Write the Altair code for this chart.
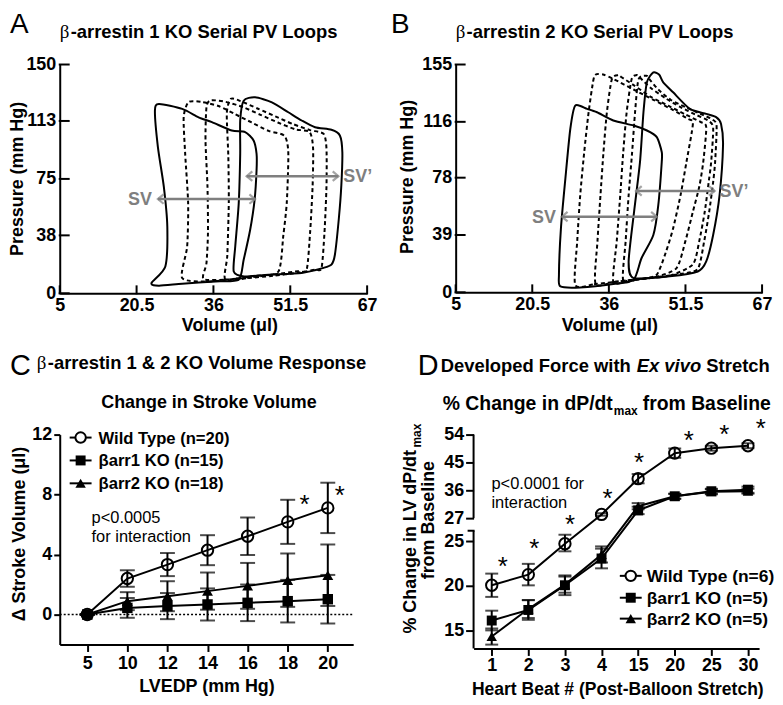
import altair as alt
import pandas as pd

FONT = "Liberation Sans"
SERIF = "Liberation Serif"
GRAY = "#7f7f7f"

# ---------------- Panel A : beta-arrestin 1 KO serial PV loops ----------------
A_XTICKS = [5, 20.5, 36, 51.5, 67]
A_YTICKS = [0, 38, 75, 113, 150]
A_L_V = [23.5, 26.3, 26.7, 26.0, 24.8, 24.2, 25.0, 29.7, 33.0, 35.7, 39.7, 42.4, 44.1, 44.7, 44.7, 44.3, 43.4, 42.1, 41.1, 36.4, 29.7, 25.0]
A_L_P = [6.7, 17.6, 43.7, 69.8, 95.9, 119.8, 124.1, 120.9, 115.4, 112.2, 106.7, 105.7, 100.2, 91.5, 80.7, 61.1, 41.5, 22.0, 8.9, 7.8, 6.3, 5.0]
A_D1_V = [29.7, 35.0, 39.7, 44.5, 49.1, 50.1, 50.8, 51.1, 50.3, 47.1, 43.7, 40.4, 37.0, 33.7, 31.0, 30.0, 30.3, 30.9, 30.7]
A_D1_P = [10.0, 7.8, 9.3, 11.5, 14.3, 38.0, 59.8, 92.4, 103.3, 106.5, 112.0, 117.4, 122.8, 125.4, 125.4, 115.4, 91.5, 58.9, 30.7]
A_D2_V = [34.0, 38.5, 43.5, 48.5, 53.0, 54.8, 55.5, 56.0, 56.1, 55.4, 52.5, 49.0, 45.5, 42.0, 38.5, 35.5, 34.6, 34.4, 34.8, 34.9, 34.6]
A_D2_P = [9.4, 9.0, 10.5, 12.5, 14.5, 15.5, 40.0, 70.0, 95.0, 105.7, 107.5, 112.0, 117.0, 122.0, 125.5, 126.5, 122.0, 100.0, 70.0, 40.0, 20.0]
A_D3_V = [38.4, 43.0, 48.0, 53.0, 56.5, 57.8, 58.4, 58.8, 58.8, 58.2, 55.5, 52.0, 48.5, 45.0, 41.5, 39.5, 38.7, 39.0, 39.1, 38.8]
A_D3_P = [9.0, 10.0, 11.5, 13.5, 15.5, 16.6, 40.0, 70.0, 95.0, 104.6, 107.0, 111.0, 116.0, 121.0, 126.0, 127.5, 118.0, 90.0, 60.0, 25.0]
A_R_V = [42.1, 44.4, 47.8, 51.1, 53.8, 56.5, 59.8, 61.5, 62.0, 61.8, 61.3, 60.5, 59.8, 58.1, 53.8, 47.1, 42.2, 40.1, 40.4, 41.1, 41.4, 41.4]
A_R_P = [126.3, 128.5, 125.2, 118.7, 113.3, 108.9, 107.2, 103.5, 92.6, 70.9, 49.2, 25.3, 18.8, 16.6, 13.3, 12.2, 11.1, 14.3, 30.7, 58.9, 91.5, 113.3]
A_SV_LABELS = ["SV", "SV\u2019"]
A_SV_FROM = [24.8, 42.7]
A_SV_TO = [44.4, 61.2]
A_SV_P = [61.8, 76.8]

# ---------------- Panel B : beta-arrestin 2 KO serial PV loops ----------------
B_XTICKS = [5, 20.5, 36, 51.5, 67]
B_YTICKS = [0, 39, 78, 116, 155]
B_L_V = [29.2, 28.2, 27.2, 26.3, 25.9, 26.2, 30.2, 36.9, 41.0, 42.6, 45.0, 46.0, 46.7, 46.7, 45.7, 43.7, 41.0, 36.9, 33.6, 31.6]
B_L_P = [127.1, 111.3, 77.4, 43.5, 12.0, 4.0, 3.3, 5.6, 8.5, 23.2, 39.0, 59.3, 88.7, 95.5, 105.6, 110.1, 113.5, 116.9, 122.5, 124.8]
B_D1_V = [29.2, 33.0, 38.0, 43.0, 45.7, 47.5, 49.0, 50.5, 51.7, 53.0, 52.0, 49.0, 45.0, 41.0, 37.0, 35.0, 33.6, 32.9, 31.9, 31.0, 30.2, 29.6]
B_D1_P = [5.0, 5.5, 7.5, 9.5, 12.0, 27.0, 43.5, 66.0, 88.7, 114.6, 118.0, 124.0, 131.0, 138.0, 145.0, 148.0, 148.5, 145.0, 122.5, 95.0, 66.0, 35.0]
B_D2_V = [33.3, 37.0, 41.0, 45.5, 49.7, 51.5, 53.0, 54.3, 55.1, 55.7, 54.5, 51.5, 48.0, 44.5, 41.0, 38.5, 37.9, 36.6, 35.6, 34.9, 34.3, 33.7]
B_D2_P = [6.0, 7.0, 8.5, 10.5, 16.5, 35.0, 54.8, 72.0, 88.7, 112.4, 116.0, 121.0, 127.0, 133.0, 141.0, 146.5, 147.8, 145.0, 122.5, 95.0, 66.0, 35.0]
B_D3_V = [36.9, 40.0, 44.0, 48.5, 53.0, 54.3, 55.4, 56.2, 56.7, 57.1, 56.0, 53.5, 50.5, 47.5, 44.5, 42.3, 41.6, 40.6, 39.6, 38.9, 38.3, 37.6]
B_D3_P = [7.0, 8.0, 9.5, 11.5, 19.0, 35.0, 54.8, 75.0, 88.7, 112.0, 117.0, 121.0, 126.0, 132.0, 139.0, 146.0, 147.8, 145.0, 122.5, 95.0, 66.0, 35.0]
B_D4_V = [38.9, 42.0, 46.0, 50.5, 54.0, 55.3, 56.3, 57.1, 57.5, 57.8, 57.0, 54.5, 51.5, 48.5, 46.0, 44.2, 43.6, 42.0, 41.3, 40.7, 40.0, 39.4]
B_D4_P = [8.0, 9.0, 10.5, 12.5, 16.0, 35.0, 54.8, 75.0, 88.7, 113.0, 117.5, 121.5, 126.0, 131.0, 138.0, 145.0, 147.4, 145.0, 122.5, 95.0, 66.0, 35.0]
B_R_V = [45.0, 46.2, 47.0, 49.0, 52.4, 55.7, 57.7, 58.7, 59.1, 58.4, 57.1, 55.7, 54.0, 48.3, 41.0, 40.0, 41.1, 42.3, 43.0, 43.7]
B_R_P = [149.6, 148.0, 142.9, 136.1, 124.8, 121.4, 119.2, 114.6, 100.0, 66.1, 39.0, 21.0, 14.2, 10.9, 9.7, 20.9, 54.8, 88.7, 122.5, 142.9]
B_SV_LABELS = ["SV", "SV\u2019"]
B_SV_FROM = [26.5, 41.5]
B_SV_TO = [45.7, 57.4]
B_SV_P = [51.5, 69.0]

# ---------------- Panel C : change in stroke volume ----------------
C_CATS = ["5", "10", "12", "14", "16", "18", "20"]
C_YTICKS = [0, 4, 8, 12]
C_WT = [0, 2.4, 3.33, 4.29, 5.22, 6.18, 7.11]
C_WT_ERR = [0, 0.55, 0.77, 1.0, 1.25, 1.47, 1.68]
C_B1 = [0, 0.44, 0.56, 0.67, 0.78, 0.89, 1.02]
C_B1_ERR = [0, 0.66, 0.87, 1.07, 1.22, 1.42, 1.62]
C_B2 = [0, 0.89, 1.22, 1.56, 1.91, 2.29, 2.62]
C_B2_ERR = [0, 0.6, 1.0, 1.24, 1.53, 1.78, 2.05]
C_LEGEND = ["Wild Type (n=20)", "\u03b2arr1 KO (n=15)", "\u03b2arr2 KO (n=18)"]
C_STAR_CATS = ["18", "20"]
C_STAR_Y = [7.6, 8.2]
C_STAR_DX = [17, 12]

# ---------------- Panel D : % change in dP/dt max ----------------
D_CATS = ["1", "2", "3", "4", "15", "20", "25", "30"]
D_YTICKS = [15, 20, 25, 27, 36, 45, 54]
D_WT = [20.06, 21.25, 24.7, 28.2, 39.75, 48.0, 49.6, 50.4]
D_WT_ERR = [1.3, 1.2, 0.85, 0.4, 1.5, 1.5, 0.8, 0.8]
D_B1 = [16.12, 17.3, 20.06, 23.05, 29.5, 34.07, 35.7, 36.2]
D_B1_ERR = [1.1, 1.1, 1.1, 1.1, 1.2, 0.8, 0.8, 1.0]
D_B2 = [14.33, 17.4, 20.13, 23.5, 30.86, 34.07, 35.5, 35.7]
D_B2_ERR = [0.9, 1.0, 0.9, 0.9, 1.0, 0.8, 0.8, 0.8]
D_LEGEND = ["Wild Type (n=6)", "\u03b2arr1 KO (n=5)", "\u03b2arr2 KO (n=5)"]
D_STAR_Y = [22.6, 24.7, 26.8, 34.7, 46.3, 53.4, 55.6, 57.5]
D_STAR_DX = [11, 6, 5, 6, 1, 14, 13, 13]


# ---------------- helpers ----------------
def T(text, x, y, size=18, weight="bold", align="left", baseline="alphabetic",
      angle=0, italic=False, color="black", font=FONT):
    kw = dict(align=align, baseline=baseline, fontSize=size, fontWeight=weight,
              font=font, color=color)
    if angle:
        kw["angle"] = angle
    if italic:
        kw["fontStyle"] = "italic"
    return alt.Chart(pd.DataFrame({"t": [text]})).mark_text(**kw).encode(
        text="t:N", x=alt.value(x), y=alt.value(y))


def ax(**kw):
    base = dict(title=None, grid=False, labelFont=FONT, labelFontSize=18,
                labelFontWeight="bold", labelColor="black", domainColor="black",
                domainWidth=2, tickColor="black", tickWidth=2, labelFlush=False,
                labelOverlap=False)
    base.update(kw)
    return alt.Axis(**base)


def loops_frame(names, Vs, Ps):
    rows = []
    for n, V, P in zip(names, Vs, Ps):
        for i, (v, p) in enumerate(zip(V, P)):
            rows.append({"loop": n, "idx": i, "V": v, "P": p})
    return pd.DataFrame(rows)


def pv_panel(solid, dashed, svs, W, H, ymax, xticks, yticks, letter, letter_x,
             title, ytitle_x, ytitle_y, xtitle_x):
    xs = alt.Scale(domain=[5, 67], nice=False, zero=False)
    ys = alt.Scale(domain=[0, ymax], nice=False, zero=False)
    xax = ax(values=xticks, labelExpr="'' + datum.value", ticks=False, tickSize=0, labelPadding=3)
    yax = ax(values=yticks, labelExpr="'' + datum.value", ticks=False, tickSize=0, labelPadding=4)
    X = alt.X("V:Q", scale=xs, axis=xax)
    Y = alt.Y("P:Q", scale=ys, axis=yax)
    dl = alt.Chart(dashed).mark_line(interpolate="cardinal-closed", tension=0.3,
                                     strokeDash=[4, 3], strokeWidth=2, color="black").encode(
        x=X, y=Y, detail="loop:N", order="idx:Q")
    sl = alt.Chart(solid).mark_line(interpolate="cardinal-closed", tension=0.3,
                                    strokeWidth=2, color="black").encode(
        x=X, y=Y, detail="loop:N", order="idx:Q")
    xt = alt.Chart(pd.DataFrame({"V": xticks})).mark_rule(color="black", strokeWidth=2).encode(
        x=X, y=alt.value(H + 1), y2=alt.value(H - 8))
    yt = alt.Chart(pd.DataFrame({"P": yticks})).mark_rule(color="black", strokeWidth=2).encode(
        y=Y, x=alt.value(-1), x2=alt.value(10))
    svr = alt.Chart(svs).mark_rule(color=GRAY, strokeWidth=2.5).encode(
        x=X, x2="V2:Q", y=Y)
    left_head = alt.Chart(svs).mark_point(shape="M1.2,-1L0,0L1.2,1", size=90, filled=False,
                                          color=GRAY, strokeWidth=2.2).encode(x=X, y=Y)
    right_head = alt.Chart(svs).mark_point(shape="M-1.2,-1L0,0L-1.2,1", size=90, filled=False,
                                           color=GRAY, strokeWidth=2.2).encode(
        x=alt.X("V2:Q", scale=xs, axis=xax), y=Y)
    lab1 = alt.Chart(svs.iloc[[0]]).mark_text(align="right", baseline="middle", dx=-6, dy=1,
                                              font=FONT, fontSize=18, fontWeight="bold",
                                              color=GRAY).encode(x=X, y=Y, text="label:N")
    lab2 = alt.Chart(svs.iloc[[1]]).mark_text(align="left", baseline="middle", dx=5, dy=1,
                                              font=FONT, fontSize=18, fontWeight="bold",
                                              color=GRAY).encode(
        x=alt.X("V2:Q", scale=xs, axis=xax), y=Y, text="label:N")
    texts = [
        T(letter, letter_x, -32, size=28, weight="normal"),
        T("\u03b2", 0, -27, size=19, weight="normal", font=SERIF),
        T(title, 11, -27, size=18.5),
        T("Pressure (mm Hg)", ytitle_x, ytitle_y, size=18, angle=270, align="center"),
        T("Volume (\u03bcl)", xtitle_x, 268, size=18, align="center"),
    ]
    return alt.layer(dl, sl, xt, yt, svr, left_head, right_head, lab1, lab2, *texts).properties(
        width=W, height=H)


def group_frame(cats, series):
    rows = []
    for g, (vals, errs) in series.items():
        for c, v, e in zip(cats, vals, errs):
            rows.append({"cat": c, "grp": g, "y": v, "lo": v - e, "hi": v + e})
    return pd.DataFrame(rows)


def stats_layers(df, X, ys, yax, cap, msize):
    Y = alt.Y("y:Q", scale=ys, axis=yax)
    Ylo = alt.Y("lo:Q", scale=ys, axis=yax)
    Yhi = alt.Y("hi:Q", scale=ys, axis=yax)
    bars = alt.Chart(df).mark_rule(color="black", strokeWidth=2).encode(
        x=X, y=Ylo, y2="hi:Q", detail="grp:N")
    cap_lo = alt.Chart(df).mark_tick(color="black", thickness=2, size=cap, orient="horizontal").encode(
        x=X, y=Ylo)
    cap_hi = alt.Chart(df).mark_tick(color="black", thickness=2, size=cap, orient="horizontal").encode(
        x=X, y=Yhi)
    lines = alt.Chart(df).mark_line(color="black", strokeWidth=2).encode(
        x=X, y=Y, detail="grp:N")
    wt = alt.Chart(df[df.grp == "wt"]).mark_point(shape="circle", size=msize[0], filled=False,
                                                   color="black", strokeWidth=2, opacity=1).encode(x=X, y=Y)
    b1 = alt.Chart(df[df.grp == "b1"]).mark_point(shape="square", size=msize[1], filled=True,
                                                   color="black", opacity=1).encode(x=X, y=Y)
    b2 = alt.Chart(df[df.grp == "b2"]).mark_point(shape="triangle-up", size=msize[2], filled=True,
                                                   color="black", opacity=1).encode(x=X, y=Y)
    return [bars, cap_lo, cap_hi, lines, b2, b1, wt]


def legend_layers(labels, ys_px, x0, x1, xm, xt, size, msize):
    out = []
    shapes = ["circle", "square", "triangle-up"]
    for lab, yp, sh, ms in zip(labels, ys_px, shapes, msize):
        d = pd.DataFrame({"t": [lab]})
        out.append(alt.Chart(d).mark_rule(color="black", strokeWidth=2).encode(
            x=alt.value(x0), x2=alt.value(x1), y=alt.value(yp)))
        out.append(alt.Chart(d).mark_point(shape=sh, size=ms, filled=(sh != "circle"),
                                           fill="white" if sh == "circle" else "black",
                                           color="black", strokeWidth=2, opacity=1).encode(
            x=alt.value(xm), y=alt.value(yp)))
        out.append(alt.Chart(d).mark_text(align="left", baseline="middle", font=FONT, fontSize=size,
                                          fontWeight="bold", color="black").encode(
            text="t:N", x=alt.value(xt), y=alt.value(yp + 1)))
    return out


# ---------------- build panel A & B ----------------
A_solid = loops_frame(["L", "R"], [A_L_V, A_R_V], [A_L_P, A_R_P])
A_dash = loops_frame(["D1", "D2", "D3"], [A_D1_V, A_D2_V, A_D3_V], [A_D1_P, A_D2_P, A_D3_P])
A_sv = pd.DataFrame({"label": A_SV_LABELS, "V": A_SV_FROM, "V2": A_SV_TO, "P": A_SV_P})
panelA = pv_panel(A_solid, A_dash, A_sv, 309, 230, 150, A_XTICKS, A_YTICKS, "A", -50,
                  "-arrestin 1 KO Serial PV Loops", -37, 115, 171)

B_solid = loops_frame(["L", "R"], [B_L_V, B_R_V], [B_L_P, B_R_P])
B_dash = loops_frame(["D1", "D2", "D3", "D4"], [B_D1_V, B_D2_V, B_D3_V, B_D4_V],
                     [B_D1_P, B_D2_P, B_D3_P, B_D4_P])
B_sv = pd.DataFrame({"label": B_SV_LABELS, "V": B_SV_FROM, "V2": B_SV_TO, "P": B_SV_P})
panelB = pv_panel(B_solid, B_dash, B_sv, 308, 229, 155, B_XTICKS, B_YTICKS, "B", -65,
                  "-arrestin 2 KO Serial PV Loops", -43, 113, 155)

# ---------------- panel C ----------------
CW, CH = 295, 211
c_df = group_frame(C_CATS, {"wt": (C_WT, C_WT_ERR), "b1": (C_B1, C_B1_ERR), "b2": (C_B2, C_B2_ERR)})
c_xs = alt.Scale(type="point", domain=C_CATS, padding=0.66, align=0.52)
c_ys = alt.Scale(domain=[-2, 12], nice=False, zero=False)
c_xax = ax(tickSize=7, labelPadding=3, labelAngle=0)
c_yax = ax(values=C_YTICKS, tickSize=6, labelPadding=2)
CX = alt.X("cat:N", scale=c_xs, axis=c_xax)
zero = alt.Chart(pd.DataFrame({"y": [0]})).mark_rule(color="black", strokeWidth=1.3,
                                                     strokeDash=[2, 2]).encode(
    y=alt.Y("y:Q", scale=c_ys, axis=c_yax), x=alt.value(0), x2=alt.value(CW))
c_layers = [zero] + stats_layers(c_df, CX, c_ys, c_yax, 15, (130, 110, 120))
for cat, yv, dx in zip(C_STAR_CATS, C_STAR_Y, C_STAR_DX):
    c_layers.append(alt.Chart(pd.DataFrame({"cat": [cat], "y": [yv]})).mark_text(
        text="*", font=FONT, fontSize=26, dx=dx, dy=13, baseline="alphabetic", color="black").encode(
        x=CX, y=alt.Y("y:Q", scale=c_ys, axis=c_yax)))
c_layers += legend_layers(C_LEGEND, [3, 26, 49], 10, 32, 21, 39, 16.7, (110, 100, 110))
c_layers += [
    T("C", -50, -60, size=29, weight="normal"),
    T("\u03b2", -23, -66, size=19, weight="normal", font=SERIF),
    T("-arrestin 1 & 2 KO Volume Response", -12, -66, size=18.5),
    T("Change in Stroke Volume", 150, -27, size=18, align="center"),
    T("\u0394 Stroke Volume (\u03bcl)", -35, 100, size=18, angle=270, align="center"),
    T("LVEDP (mm Hg)", 148, 259, size=18, align="center"),
    T("p<0.0005", 32, 89, size=16.5, weight="normal"),
    T("for interaction", 32, 108, size=16.5, weight="normal"),
]
panelC = alt.layer(*c_layers).properties(width=CW, height=CH)

# ---------------- panel D ----------------
DW, DH = 287, 215
d_df = group_frame(D_CATS, {"wt": (D_WT, D_WT_ERR), "b1": (D_B1, D_B1_ERR), "b2": (D_B2, D_B2_ERR)})
d_xs = alt.Scale(type="point", domain=D_CATS, padding=0.4, align=0.62)
d_ys = alt.Scale(domain=[13, 25, 27, 54], range=[215, 107, 84, 0], nice=False, zero=False)
d_xax = ax(tickSize=7, labelPadding=1, labelAngle=0)
d_yax = ax(values=D_YTICKS, tickSize=8, labelPadding=2, domain=False)
DX = alt.X("cat:N", scale=d_xs, axis=d_xax)
seg = alt.Chart(pd.DataFrame({"y": [13, 27], "y2": [25.9, 54]})).mark_rule(
    color="black", strokeWidth=2).encode(
    y=alt.Y("y:Q", scale=d_ys, axis=d_yax), y2="y2:Q", x=alt.value(0))
brk = alt.Chart(pd.DataFrame({"y": [25.9]})).mark_rule(color="black", strokeWidth=2).encode(
    y=alt.Y("y:Q", scale=d_ys, axis=d_yax), x=alt.value(-6), x2=alt.value(1))
d_layers = [seg, brk] + stats_layers(d_df, DX, d_ys, d_yax, 13, (130, 100, 110))
for cat, yv, dx in zip(D_CATS, D_STAR_Y, D_STAR_DX):
    d_layers.append(alt.Chart(pd.DataFrame({"cat": [cat], "y": [yv]})).mark_text(
        text="*", font=FONT, fontSize=26, dx=dx, dy=13, baseline="alphabetic", color="black").encode(
        x=DX, y=alt.Y("y:Q", scale=d_ys, axis=d_yax)))
d_layers += legend_layers(D_LEGEND, [142, 164, 185], 147, 169, 158, 174, 17.5, (110, 100, 110))
d_layers += [
    T("D", -56, -60, size=29, weight="normal"),
    T("Developed Force with", -33, -63, size=18.5),
    T("Ex vivo", 164, -63, size=18.5, italic=True),
    T("Stretch", 234, -63, size=18.5),
    T("% Change in dP/dt", -31, -25, size=19.5),
    T("max", 141, -20, size=12),
    T("from Baseline", 170, -25, size=19.5),
    T("% Change in LV dP/dt", -58, 200, size=18, angle=270, align="left"),
    T("max", -53, 13, size=12, angle=270, align="left"),
    T("from Baseline", -40, 86, size=18, angle=270, align="center"),
    T("Heart Beat # (Post-Balloon Stretch)", 145, 262, size=17.6, align="center"),
    T("p<0.0001 for", 18, 55, size=16.5, weight="normal"),
    T("interaction", 18, 74, size=16.5, weight="normal"),
]
panelD = alt.layer(*d_layers).properties(width=DW, height=DH)

row1 = alt.hconcat(panelA, panelB, spacing=89, bounds="flush")
row2 = alt.hconcat(panelC, panelD, spacing=121, bounds="flush")
chart = alt.vconcat(row1, row2, spacing=15).properties(
    padding={"left": 0, "top": 0, "right": 0, "bottom": 0}
).configure_view(stroke="transparent")

chart.save("out.html", embed_options={"renderer": "svg", "actions": False})
